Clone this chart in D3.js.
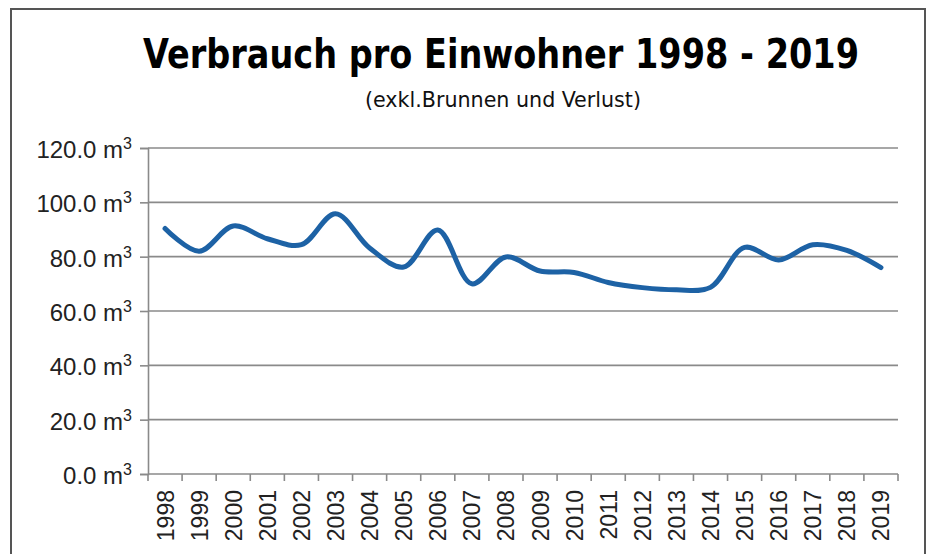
<!DOCTYPE html>
<html>
<head>
<meta charset="utf-8">
<script src="https://d3js.org/d3.v7.min.js"></script>
<style>
  body { margin: 0; background: #fff; }
  text { font-family: "Liberation Sans", Arial, sans-serif; fill: #222; }
</style>
</head>
<body>
<script>
// data
var years = ["1998","1999","2000","2001","2002","2003","2004","2005","2006","2007","2008",
             "2009","2010","2011","2012","2013","2014","2015","2016","2017","2018","2019"];
var verbrauch = [90.4, 82.0, 91.3, 86.6, 84.4, 95.8, 83.2, 76.2, 89.8, 70.0, 79.9,
                 74.7, 74.2, 70.5, 68.6, 67.8, 68.7, 83.4, 78.8, 84.4, 82.3, 76.0];
var yTicks = [0, 20, 40, 60, 80, 100, 120];

var title = "Verbrauch pro Einwohner 1998 - 2019";
var subtitle = "(exkl.Brunnen und Verlust)";

var width = 930, height = 554;

var svg = d3.select("body").append("svg")
    .attr("width", width)
    .attr("height", height);

// outer frame
svg.append("rect")
    .attr("x", 11)
    .attr("y", 9)
    .attr("width", 914)
    .attr("height", 570)
    .attr("fill", "#fff")
    .attr("stroke", "#555")
    .attr("stroke-width", 2);

var plot = { left: 148, right: 898, top: 148, bottom: 474 };

var x = d3.scaleBand()
    .domain(years)
    .range([plot.left, plot.right])
    .padding(0);

var y = d3.scaleLinear()
    .domain([0, 120])
    .range([plot.bottom, plot.top]);

// titles
svg.append("text")
    .attr("x", 501)
    .attr("y", 68)
    .attr("text-anchor", "middle")
    .attr("textLength", 716)
    .attr("lengthAdjust", "spacingAndGlyphs")
    .style("font-family", "'Liberation Sans Narrow', 'DejaVu Sans Condensed', sans-serif")
    .style("font-weight", "bold")
    .style("font-size", "40px")
    .style("fill", "#000")
    .text(title);

svg.append("text")
    .attr("x", 503)
    .attr("y", 107)
    .attr("text-anchor", "middle")
    .attr("textLength", 276)
    .attr("lengthAdjust", "spacingAndGlyphs")
    .style("font-family", "'Liberation Sans Narrow', 'DejaVu Sans Condensed', sans-serif")
    .style("font-size", "22px")
    .style("fill", "#111")
    .text(subtitle);

// gridlines
svg.append("g")
  .selectAll("line")
  .data(yTicks.filter(function (d) { return d > 0; }))
  .join("line")
    .attr("x1", plot.left)
    .attr("x2", plot.right)
    .attr("y1", function (d) { return y(d); })
    .attr("y2", function (d) { return y(d); })
    .attr("stroke", "#8a8a8a")
    .attr("stroke-width", 1.6);

// y axis
var yAxis = svg.append("g")
    .attr("transform", "translate(" + plot.left + ",0)")
    .call(d3.axisLeft(y).tickValues(yTicks).tickSize(8).tickFormat(""));
yAxis.selectAll("path, line").attr("stroke", "#8a8a8a").attr("stroke-width", 1.6);

var yLab = svg.append("g")
  .selectAll("text")
  .data(yTicks)
  .join("text")
    .attr("x", 132)
    .attr("y", function (d) { return y(d) + 10; })
    .attr("text-anchor", "end")
    .style("font-size", "24px");
yLab.append("tspan").text(function (d) { return d3.format(".1f")(d) + " m"; });
yLab.append("tspan")
    .attr("dy", -9)
    .style("font-size", "16px")
    .text("3");

// x axis (ticks between categories)
var xAxis = svg.append("g")
    .attr("transform", "translate(0," + plot.bottom + ")");
xAxis.append("line")
    .attr("x1", plot.left)
    .attr("x2", plot.right)
    .attr("stroke", "#8a8a8a")
    .attr("stroke-width", 1.6);
xAxis.selectAll("line.tick")
  .data(years.concat(["end"]))
  .join("line")
    .attr("class", "tick")
    .attr("x1", function (d, i) { return plot.left + i * x.bandwidth(); })
    .attr("x2", function (d, i) { return plot.left + i * x.bandwidth(); })
    .attr("y1", 0)
    .attr("y2", 7)
    .attr("stroke", "#8a8a8a")
    .attr("stroke-width", 1.6);

svg.append("g")
  .selectAll("text")
  .data(years)
  .join("text")
    .attr("transform", function (d) {
      return "translate(" + (x(d) + x.bandwidth() / 2 + 8.5) + "," + 490 + ") rotate(-90)";
    })
    .attr("text-anchor", "end")
    .style("font-size", "23px")
    .text(function (d) { return d; });

// the line
var line = d3.line()
    .x(function (d, i) { return x(years[i]) + x.bandwidth() / 2; })
    .y(function (d) { return y(d); })
    .curve(d3.curveCatmullRom.alpha(0.5));

svg.append("path")
    .datum(verbrauch)
    .attr("fill", "none")
    .attr("stroke", "#1d62a5")
    .attr("stroke-width", 5)
    .attr("stroke-linecap", "round")
    .attr("d", line);
</script>
</body>
</html>
